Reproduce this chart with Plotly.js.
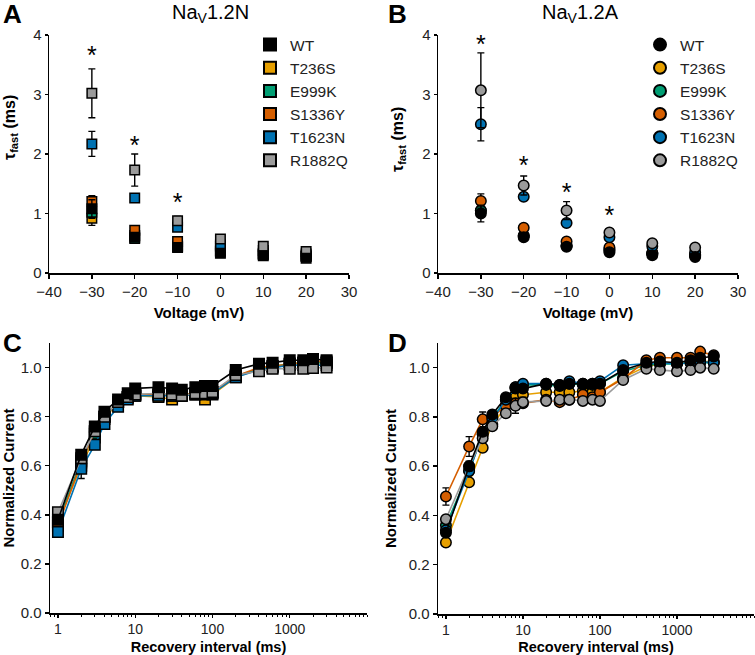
<!DOCTYPE html>
<html>
<head>
<meta charset="utf-8">
<script src="https://cdn.plot.ly/plotly-3.0.1.min.js"></script>
<style>html,body{margin:0;padding:0;background:#fff;}#plot{width:755px;height:655px;}</style>
</head>
<body>
<div id="plot"></div>
<script>
// ---------- DATA ----------
const seriesNames = ["WT", "T236S", "E999K", "S1336Y", "T1623N", "R1882Q"];
const voltage = [-30, -20, -10, 0, 10, 20];

// Panel A: NaV1.2N tau fast (ms)
const A_WT     = [1.08, 0.60, 0.43, 0.33, 0.29, 0.25];
const A_T236S  = [0.92, 0.63, 0.45, 0.37, 0.31, 0.28];
const A_E999K  = [1.02, 0.58, 0.45, 0.37, 0.32, 0.28];
const A_S1336Y = [1.20, 0.72, 0.53, 0.47, 0.33, 0.29];
const A_T1623N = [2.17, 1.26, 0.77, 0.45, 0.38, 0.32];
const A_R1882Q = [3.02, 1.73, 0.88, 0.57, 0.45, 0.36];
const A_WT_err     = [0.15, 0.04, 0.03, 0.02, 0.02, 0.02];
const A_T236S_err  = [0.12, 0.04, 0.03, 0.02, 0.02, 0.02];
const A_E999K_err  = [0.10, 0.04, 0.03, 0.02, 0.02, 0.02];
const A_S1336Y_err = [0.10, 0.04, 0.03, 0.03, 0.02, 0.02];
const A_T1623N_err = [0.21, 0.05, 0.05, 0.03, 0.03, 0.02];
const A_R1882Q_err = [0.41, 0.27, 0.07, 0.04, 0.03, 0.03];
const A_starX = [-30, -20, -10];
const A_starY = [3.62, 2.10, 1.15];

// Panel B: NaV1.2A tau fast (ms)
const B_WT     = [1.00, 0.60, 0.44, 0.35, 0.30, 0.27];
const B_T236S  = [1.05, 0.63, 0.46, 0.40, 0.33, 0.30];
const B_E999K  = [1.05, 0.62, 0.46, 0.38, 0.33, 0.30];
const B_S1336Y = [1.21, 0.76, 0.53, 0.43, 0.34, 0.31];
const B_T1623N = [2.50, 1.28, 0.84, 0.60, 0.45, 0.35];
const B_R1882Q = [3.07, 1.47, 1.05, 0.68, 0.50, 0.43];
const B_WT_err     = [0.14, 0.03, 0.03, 0.02, 0.02, 0.02];
const B_T236S_err  = [0.10, 0.04, 0.03, 0.02, 0.02, 0.02];
const B_E999K_err  = [0.10, 0.04, 0.03, 0.02, 0.02, 0.02];
const B_S1336Y_err = [0.12, 0.04, 0.03, 0.03, 0.02, 0.02];
const B_T1623N_err = [0.28, 0.05, 0.04, 0.04, 0.03, 0.02];
const B_R1882Q_err = [0.63, 0.16, 0.15, 0.06, 0.04, 0.03];
const B_starX = [-30, -20, -10, 0];
const B_starY = [3.80, 1.77, 1.32, 0.93];

// Panels C & D: recovery from inactivation
const interval = [1, 2, 3, 4, 6, 8, 10, 20, 30, 40, 60, 80, 100, 200, 400, 600, 1000, 1500, 2000, 3000];
const C_WT     = [0.38, 0.645, 0.76, 0.82, 0.87, 0.895, 0.915, 0.92, 0.915, 0.91, 0.92, 0.925, 0.925, 0.99, 1.015, 1.02, 1.03, 1.03, 1.035, 1.03];
const C_T236S  = [0.37, 0.60, 0.715, 0.79, 0.86, 0.875, 0.885, 0.88, 0.87, 0.885, 0.89, 0.87, 0.89, 0.96, 0.995, 1.005, 1.015, 1.02, 1.02, 1.02];
const C_E999K  = [0.37, 0.62, 0.73, 0.80, 0.86, 0.88, 0.89, 0.89, 0.89, 0.89, 0.895, 0.895, 0.895, 0.965, 0.995, 1.005, 1.015, 1.02, 1.02, 1.02];
const C_S1336Y = [0.355, 0.613, 0.74, 0.80, 0.86, 0.88, 0.89, 0.89, 0.885, 0.89, 0.895, 0.895, 0.90, 0.965, 1.0, 1.005, 1.015, 1.02, 1.025, 1.025];
const C_T1623N = [0.33, 0.588, 0.685, 0.77, 0.84, 0.87, 0.885, 0.885, 0.885, 0.885, 0.89, 0.89, 0.895, 0.96, 0.99, 1.0, 1.01, 1.01, 1.01, 1.01];
const C_R1882Q = [0.41, 0.63, 0.74, 0.80, 0.86, 0.88, 0.89, 0.895, 0.89, 0.885, 0.895, 0.895, 0.90, 0.97, 0.985, 0.995, 0.995, 0.995, 0.998, 1.0];
const C_T1623N_err = [0.015, 0.04, 0.015, 0.015, 0.01, 0.01, 0.01, 0.01, 0.01, 0.01, 0.01, 0.01, 0.01, 0.01, 0.01, 0.01, 0.01, 0.01, 0.01, 0.01];
const C_T236S_err  = [0.015, 0.02, 0.015, 0.015, 0.01, 0.01, 0.01, 0.01, 0.015, 0.01, 0.01, 0.015, 0.01, 0.01, 0.01, 0.01, 0.01, 0.01, 0.01, 0.01];

const D_WT     = [0.33, 0.60, 0.74, 0.81, 0.88, 0.915, 0.915, 0.935, 0.93, 0.935, 0.935, 0.935, 0.935, 0.99, 1.02, 1.025, 1.02, 1.03, 1.04, 1.045];
const D_T236S  = [0.29, 0.535, 0.675, 0.77, 0.84, 0.88, 0.89, 0.90, 0.90, 0.90, 0.905, 0.90, 0.90, 0.96, 1.005, 1.015, 1.02, 1.025, 1.025, 1.025];
const D_E999K  = [0.36, 0.58, 0.73, 0.795, 0.87, 0.92, 0.93, 0.93, 0.925, 0.935, 0.93, 0.93, 0.935, 0.985, 1.01, 1.015, 1.015, 1.02, 1.02, 1.02];
const D_S1336Y = [0.477, 0.68, 0.79, 0.80, 0.845, 0.855, 0.855, 0.87, 0.86, 0.87, 0.89, 0.88, 0.90, 0.955, 1.03, 1.04, 1.04, 1.04, 1.065, 1.05];
const D_T1623N = [0.34, 0.58, 0.73, 0.79, 0.87, 0.92, 0.935, 0.935, 0.93, 0.945, 0.935, 0.935, 0.945, 1.01, 1.015, 1.02, 1.015, 1.02, 1.025, 1.02];
const D_R1882Q = [0.385, 0.60, 0.713, 0.762, 0.815, 0.845, 0.86, 0.865, 0.87, 0.87, 0.865, 0.87, 0.865, 0.95, 0.995, 0.99, 0.985, 0.99, 1.0, 0.995];
const D_S1336Y_err = [0.035, 0.04, 0.03, 0.015, 0.015, 0.015, 0.015, 0.015, 0.015, 0.015, 0.015, 0.015, 0.015, 0.01, 0.01, 0.01, 0.01, 0.01, 0.01, 0.01];
const D_R1882Q_err = [0.015, 0.02, 0.015, 0.015, 0.015, 0.03, 0.02, 0.015, 0.015, 0.015, 0.015, 0.015, 0.015, 0.01, 0.01, 0.01, 0.01, 0.01, 0.01, 0.01];

const xTickVals = [1, 10, 100, 1000];
const xTickText = ["1", "10", "100", "1000"];

// ---------- STYLE ----------
const colors = {WT: "#000000", T236S: "#E69F00", E999K: "#009E73", S1336Y: "#D55E00", T1623N: "#0072B2", R1882Q: "#9B9B9B"};
const FONT = "Liberation Sans, Arial, Helvetica, sans-serif";
const drawOrder = ["T236S", "E999K", "S1336Y", "T1623N", "R1882Q", "WT"];

const A_y = {WT: A_WT, T236S: A_T236S, E999K: A_E999K, S1336Y: A_S1336Y, T1623N: A_T1623N, R1882Q: A_R1882Q};
const A_e = {WT: A_WT_err, T236S: A_T236S_err, E999K: A_E999K_err, S1336Y: A_S1336Y_err, T1623N: A_T1623N_err, R1882Q: A_R1882Q_err};
const B_y = {WT: B_WT, T236S: B_T236S, E999K: B_E999K, S1336Y: B_S1336Y, T1623N: B_T1623N, R1882Q: B_R1882Q};
const B_e = {WT: B_WT_err, T236S: B_T236S_err, E999K: B_E999K_err, S1336Y: B_S1336Y_err, T1623N: B_T1623N_err, R1882Q: B_R1882Q_err};
const C_y = {WT: C_WT, T236S: C_T236S, E999K: C_E999K, S1336Y: C_S1336Y, T1623N: C_T1623N, R1882Q: C_R1882Q};
const C_e = {T236S: C_T236S_err, T1623N: C_T1623N_err};
const D_y = {WT: D_WT, T236S: D_T236S, E999K: D_E999K, S1336Y: D_S1336Y, T1623N: D_T1623N, R1882Q: D_R1882Q};
const D_e = {S1336Y: D_S1336Y_err, R1882Q: D_R1882Q_err};

const traces = [];
function errObj(arr) {
  if (!arr) return {visible: false};
  return {type: "data", array: arr, visible: true, color: "#000", thickness: 1.4, width: 3.5};
}
function addPanel(xs, ymap, emap, xa, ya, symbol, size, withLines, legendId) {
  drawOrder.forEach(name => {
    traces.push({
      type: "scatter",
      x: xs, y: ymap[name],
      xaxis: xa, yaxis: ya,
      mode: withLines ? "lines+markers" : "markers",
      name: name,
      legend: legendId || "legend",
      legendrank: seriesNames.indexOf(name) + 1,
      showlegend: !!legendId,
      line: {color: colors[name], width: 1.6},
      marker: {symbol: symbol, size: size, color: colors[name], line: {color: "#000", width: 1.5}},
      error_y: errObj(emap[name]),
      cliponaxis: false,
      hoverinfo: "x+y+name"
    });
  });
}
addPanel(voltage, A_y, A_e, "x", "y", "square", 9.5, false, "legend");
addPanel(voltage, B_y, B_e, "x2", "y2", "circle", 10.5, false, "legend2");
addPanel(interval, C_y, C_e, "x3", "y3", "square", 10.5, true, null);
addPanel(interval, D_y, D_e, "x4", "y4", "circle", 10.5, true, null);

traces.push({type: "scatter", mode: "text", x: A_starX, y: A_starY, text: A_starX.map(() => "*"),
  xaxis: "x", yaxis: "y", showlegend: false, hoverinfo: "skip", textfont: {family: FONT, size: 25, color: "#000"}});
traces.push({type: "scatter", mode: "text", x: B_starX, y: B_starY, text: B_starX.map(() => "*"),
  xaxis: "x2", yaxis: "y2", showlegend: false, hoverinfo: "skip", textfont: {family: FONT, size: 25, color: "#000"}});

// ---------- LAYOUT ----------
const W = 755, H = 655;
const dx = (a, b) => [a / W, b / W];
const dy = (top, bot) => [1 - bot / H, 1 - top / H];

const tickFont = {family: FONT, size: 15, color: "#222"};
const tickFontSmall = {family: FONT, size: 14, color: "#222"};
const titleFont = {family: FONT, size: 15, color: "#000"};
function linAxisX(dom, anchor, title) {
  return {domain: dom, anchor: anchor, range: [-40, 30], tickvals: [-40, -30, -20, -10, 0, 10, 20, 30],
    showgrid: false, zeroline: false, showline: true, linecolor: "#000", linewidth: 1.5,
    ticks: "outside", ticklen: 4, tickwidth: 1.4, tickcolor: "#000", tickfont: tickFont,
    title: {text: "<b>" + title + "</b>", font: titleFont, standoff: 9}};
}
function linAxisY(dom, anchor) {
  return {domain: dom, anchor: anchor, range: [0, 4], tickvals: [0, 1, 2, 3, 4],
    showgrid: false, zeroline: false, showline: true, linecolor: "#000", linewidth: 1.5,
    ticks: "outside", ticklen: 3, tickwidth: 1.4, tickcolor: "#000", tickfont: tickFont};
}
function logAxisX(dom, anchor) {
  return {domain: dom, anchor: anchor, type: "log", range: [-0.103, 4.0], tickvals: xTickVals, ticktext: xTickText,
    showgrid: false, zeroline: false, showline: true, linecolor: "#000", linewidth: 1.5,
    ticks: "outside", ticklen: 3, tickwidth: 1.4, tickcolor: "#000", tickfont: tickFontSmall,
    minor: {ticks: "outside", ticklen: 2.5, tickwidth: 1, tickcolor: "#000", dtick: "D1", showgrid: false},
    title: {text: "<b>Recovery interval (ms)</b>", font: {family: FONT, size: 14.5, color: "#000"}, standoff: 5}};
}
function normAxisY(dom, anchor) {
  return {domain: dom, anchor: anchor, range: [0, 1.1], tickvals: [0, 0.2, 0.4, 0.6, 0.8, 1.0], tickformat: ".1f",
    showgrid: false, zeroline: false, showline: true, linecolor: "#000", linewidth: 1.5,
    ticks: "outside", ticklen: 4, tickwidth: 1.4, tickcolor: "#000", tickfont: tickFont,
    title: {text: "<b>Normalized Current</b>", font: titleFont, standoff: 8}};
}

const layout = {
  width: W, height: H,
  margin: {l: 0, r: 0, t: 0, b: 0, pad: 0},
  paper_bgcolor: "#fff", plot_bgcolor: "rgba(0,0,0,0)",
  font: {family: FONT, color: "#000"},
  xaxis: linAxisX(dx(49, 349), "y", "Voltage (mV)"),
  yaxis: linAxisY(dy(35, 273), "x"),
  xaxis2: linAxisX(dx(438, 738), "y2", "Voltage (mV)"),
  yaxis2: linAxisY(dy(35, 273), "x2"),
  xaxis3: logAxisX(dx(50, 367), "y3"),
  yaxis3: normAxisY(dy(343, 613), "x3"),
  xaxis4: logAxisX(dx(438, 754), "y4"),
  yaxis4: normAxisY(dy(343, 614), "x4"),
  legend: {x: 250 / W, y: 1 - 28 / H, xanchor: "left", yanchor: "top", bgcolor: "rgba(0,0,0,0)",
    font: {family: FONT, size: 15.5, color: "#222"}, tracegroupgap: 0, itemsizing: "constant"},
  legend2: {x: 640 / W, y: 1 - 28 / H, xanchor: "left", yanchor: "top", bgcolor: "rgba(0,0,0,0)",
    font: {family: FONT, size: 15.5, color: "#222"}, tracegroupgap: 0, itemsizing: "constant"},
  showlegend: true,
  annotations: [
    {text: "<b>A</b>", x: 12 / W, y: 1 - 14 / H, xref: "paper", yref: "paper", showarrow: false, font: {family: FONT, size: 26, color: "#000"}, xanchor: "center", yanchor: "middle"},
    {text: "<b>B</b>", x: 397 / W, y: 1 - 14 / H, xref: "paper", yref: "paper", showarrow: false, font: {family: FONT, size: 26, color: "#000"}, xanchor: "center", yanchor: "middle"},
    {text: "<b>C</b>", x: 12 / W, y: 1 - 343 / H, xref: "paper", yref: "paper", showarrow: false, font: {family: FONT, size: 26, color: "#000"}, xanchor: "center", yanchor: "middle"},
    {text: "<b>D</b>", x: 397 / W, y: 1 - 343 / H, xref: "paper", yref: "paper", showarrow: false, font: {family: FONT, size: 26, color: "#000"}, xanchor: "center", yanchor: "middle"},
    {text: "Na<sub>V</sub>1.2N", x: 211 / W, y: 1 - 14 / H, xref: "paper", yref: "paper", showarrow: false, font: {family: FONT, size: 20, color: "#000"}, xanchor: "center", yanchor: "middle"},
    {text: "Na<sub>V</sub>1.2A", x: 580 / W, y: 1 - 14 / H, xref: "paper", yref: "paper", showarrow: false, font: {family: FONT, size: 20, color: "#000"}, xanchor: "center", yanchor: "middle"},
    {text: "<b>τ<sub>fast</sub> (ms)</b>", x: 11 / W, y: 1 - 128 / H, xref: "paper", yref: "paper", showarrow: false, textangle: -90, font: {family: FONT, size: 16, color: "#000"}, xanchor: "center", yanchor: "middle"},
    {text: "<b>τ<sub>fast</sub> (ms)</b>", x: 398 / W, y: 1 - 140 / H, xref: "paper", yref: "paper", showarrow: false, textangle: -90, font: {family: FONT, size: 16, color: "#000"}, xanchor: "center", yanchor: "middle"}
  ]
};

Plotly.newPlot("plot", traces, layout, {displayModeBar: false, staticPlot: true});
</script>
</body>
</html>
